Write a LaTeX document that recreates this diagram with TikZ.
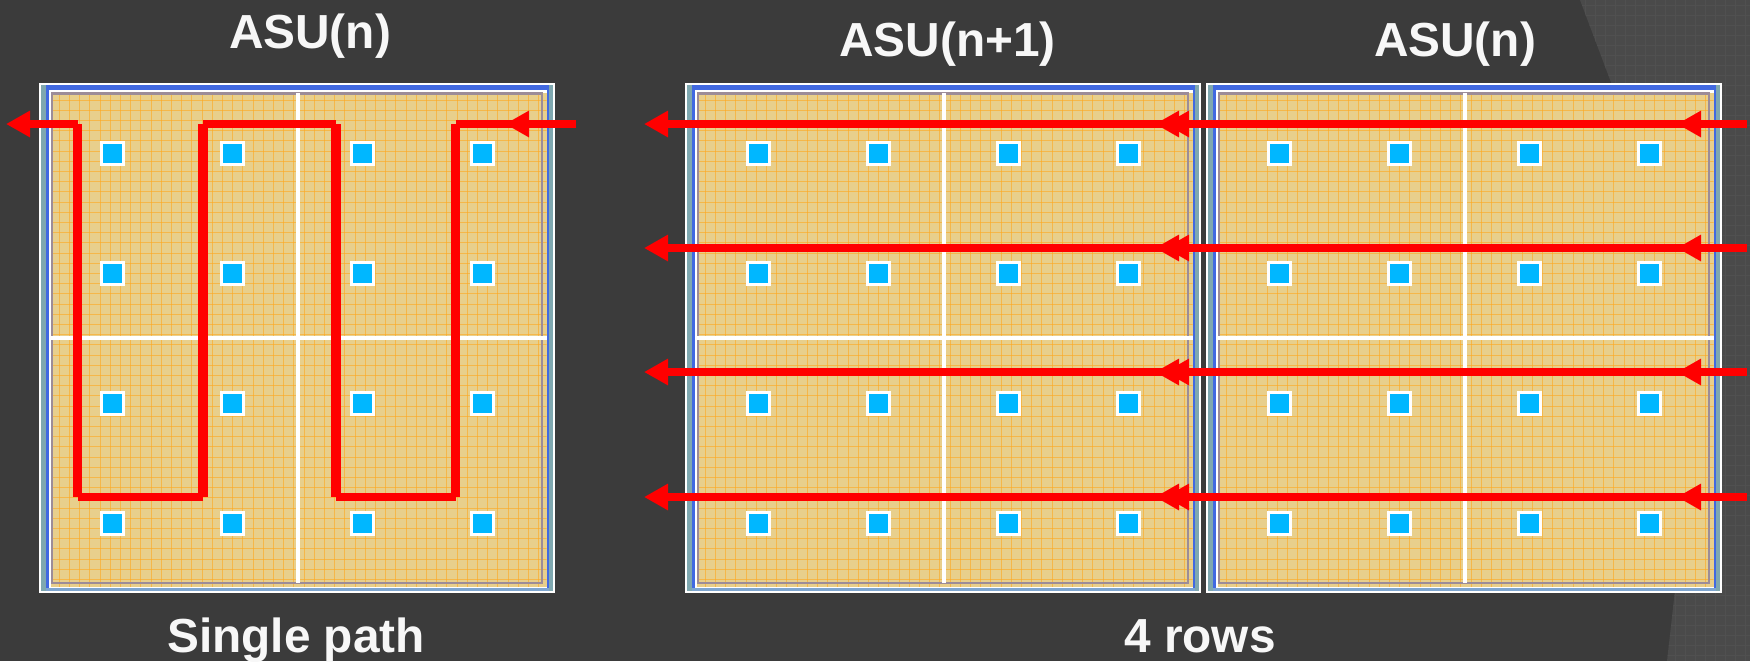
\documentclass[tikz,border=0pt]{standalone}
\usepackage{fontspec}
\setmainfont{Liberation Sans}
\usetikzlibrary{arrows.meta}
\definecolor{slide}{HTML}{3B3B3B}
\definecolor{slidepat}{HTML}{4A4A4A}
\definecolor{slidegrid}{HTML}{505050}
\definecolor{celly}{HTML}{E8CF8C}
\definecolor{cellg}{HTML}{FFA71F}
\definecolor{ringteal}{HTML}{7FA8B0}
\definecolor{ringblue}{HTML}{4169E1}
\definecolor{ringlight}{HTML}{7FA6D0}
\definecolor{ringgray}{HTML}{9C8C98}
\definecolor{padblue}{HTML}{00B7FF}
\tikzset{
  title/.style={text=white!97!black,font=\bfseries\fontsize{23.9}{28}\selectfont,inner sep=0pt,anchor=base},
  padsq/.style={draw=white,fill=padblue,line width=1.5pt,minimum size=11pt,inner sep=0pt},
  redline/.style={draw=red,line width=4pt},
  redup/.style={draw=red,line width=4.6pt},
  redtip/.style={-{Triangle[length=12pt,width=12.5pt]}}
}
\begin{document}
\begin{tikzpicture}[x=0.5pt,y=-0.5pt]
\useasboundingbox (0,0) rectangle (1750,661);
\fill[slide] (0,0) rectangle (1750,661);

% patterned corner of the slide
\begin{scope}
\clip (1580,0) -- (1612,85) -- (1675,590) -- (1667,661) -- (1750,661) -- (1750,0) -- cycle;
\fill[slidepat] (1560,0) rectangle (1750,661);
\foreach \gx in {1565,1575,...,1745} {\draw[slidegrid,line width=0.5pt] (\gx,0) -- (\gx,661);}
\foreach \gy in {5,15,...,655} {\draw[slidegrid,line width=0.5pt] (1560,\gy) -- (1750,\gy);}
\end{scope}

% the three panels
\foreach \px in {39,685,1206} {
\begin{scope}[xshift=\px*0.5pt]
\fill[white] (0,83) rectangle (516,593);
\fill[ringteal] (2.3,85.3) rectangle (514.3,590.7);
\fill[ringblue] (7,85.3) rectangle (510,588);
\fill[ringlight] (7,588) rectangle (510,590.7);
\fill[white] (9.5,89.7) rectangle (507.7,588);
\fill[celly] (12,92.5) rectangle (507.7,586.7);
\begin{scope}
\clip (12,92.5) rectangle (507.7,586.7);
\foreach \gx in {10,20.2,...,510} {\draw[cellg,line width=0.45pt,opacity=0.6] (\gx,93) -- (\gx,587);}
\foreach \gy in {100,110.2,...,587} {\draw[cellg,line width=0.45pt,opacity=0.6] (12,\gy) -- (508,\gy);}
\end{scope}
\draw[ringgray,line width=1.25pt] (13.2,93.5) rectangle (503.2,583);
\draw[white,line width=2.4pt] (259,93) -- (259,583);
\draw[white,line width=2.4pt] (12,338) -- (508,338);
\foreach \cx in {73,193,323,443} {
\foreach \cy in {153.5,273.5,403,523} {
\node[padsq] (pad-\px-\cx-\cy) at (\cx,\cy) {};
}}
\end{scope}
}

\node[title] (t1) at (310,48) {ASU(n)};
\node[title] (t2) at (947.5,56) {ASU(n+1)};
\node[title] (t3) at (1455,56) {ASU(n)};
\node[title] (t4) at (296,652) {Single path};
\node[title] (t5) at (1200,652) {4 rows};

% single path
\coordinate (sIn) at (576,124);
\coordinate (sTip) at (505,124);
\coordinate (sA) at (455.5,124);
\coordinate (sB) at (455.5,497);
\coordinate (sC) at (336,497);
\coordinate (sD) at (336,124);
\coordinate (sE) at (203,124);
\coordinate (sF) at (203,497);
\coordinate (sG) at (77.5,497);
\coordinate (sH) at (77.5,124);
\coordinate (sOut) at (6,124);
\draw[redline] (sIn) -- (sA);
\draw[redline,redtip] (sIn) -- (sTip);
\draw[redup] (sA) -- (sB);
\draw[redline] (sB) -- (sC);
\draw[redup] (sC) -- (sD);
\draw[redline] (sD) -- (sE);
\draw[redup] (sE) -- (sF);
\draw[redline] (sF) -- (sG);
\draw[redup] (sG) -- (sH);
\draw[redline,redtip] (sH) -- (sOut);

% the 4 rows
\foreach \ry/\rn in {124/a,248/b,372/c,497/d} {
\coordinate (rA\rn) at (1273,\ry);
\coordinate (rB\rn) at (1165,\ry);
\coordinate (rC\rn) at (644,\ry);
\coordinate (rD\rn) at (1747,\ry);
\coordinate (rE\rn) at (1677,\ry);
\coordinate (rF\rn) at (1155,\ry);
\draw[redline,redtip] (rA\rn) -- (rC\rn);
\draw[redline,redtip] (rA\rn) -- (rB\rn);
\draw[redline,redtip] (rD\rn) -- (rF\rn);
\draw[redline,redtip] (rD\rn) -- (rE\rn);
}
\end{tikzpicture}
\end{document}
